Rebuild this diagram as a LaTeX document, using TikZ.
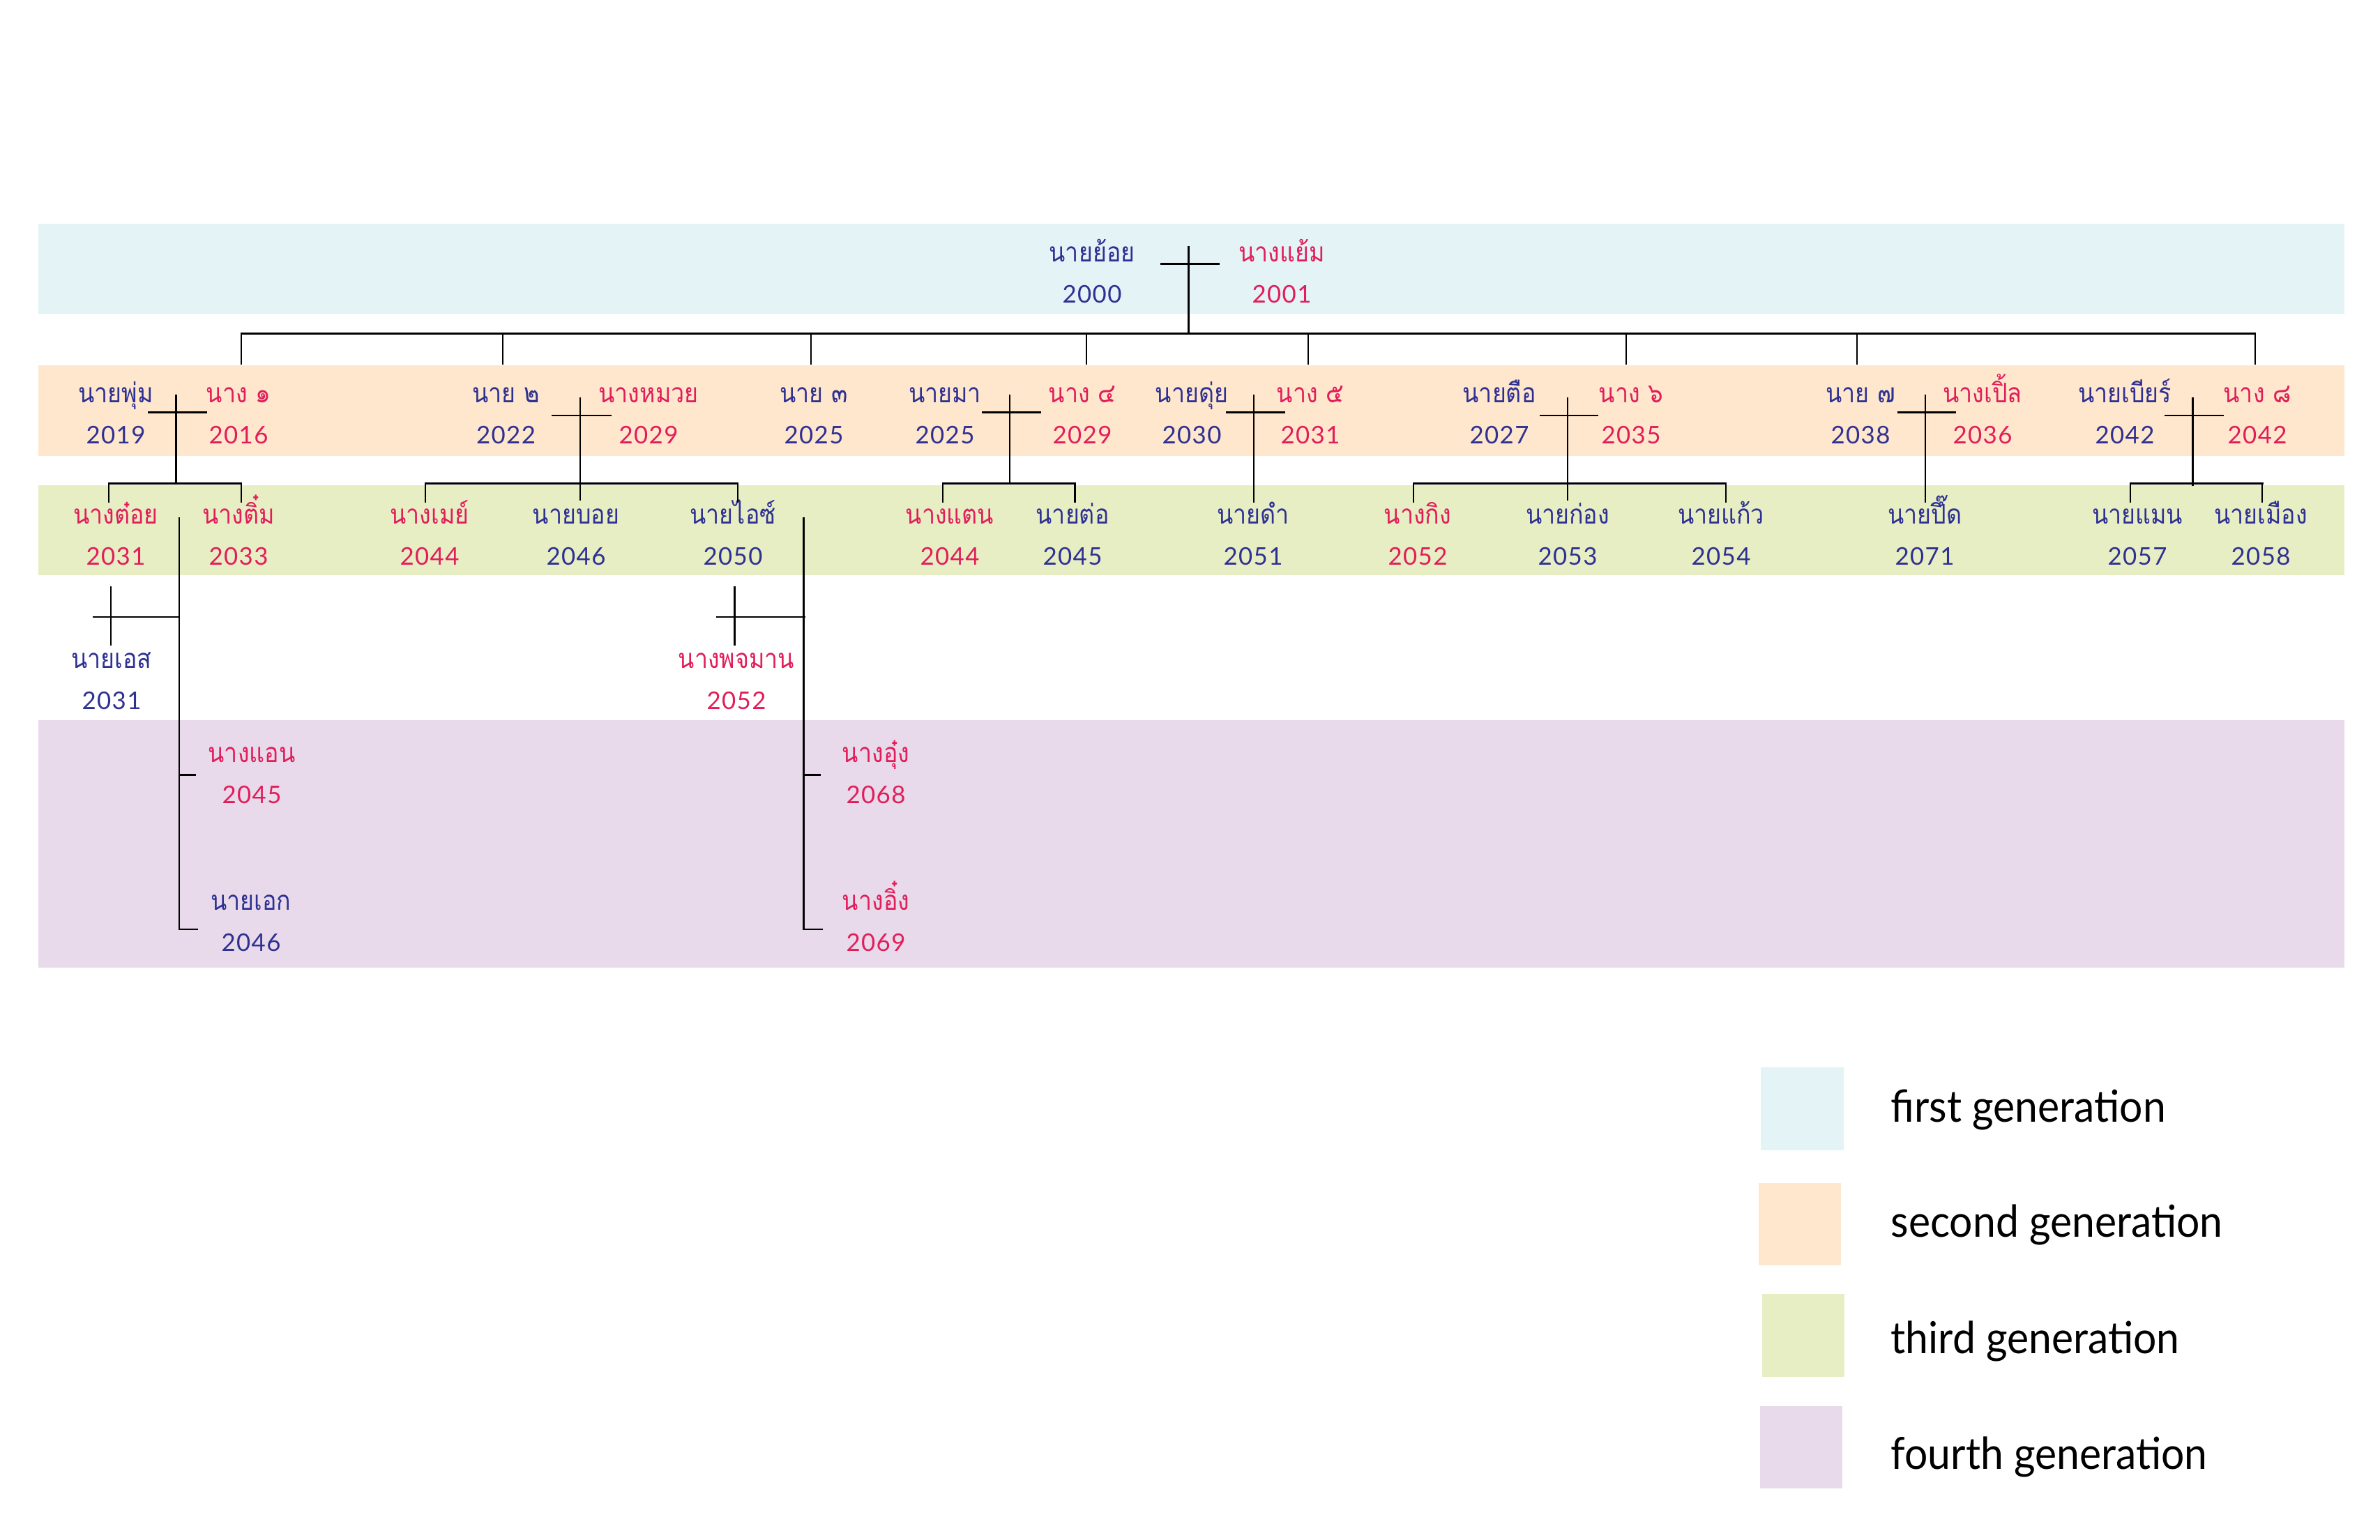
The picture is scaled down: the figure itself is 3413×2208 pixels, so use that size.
\documentclass[tikz,border=0pt]{standalone}
\usepackage{fontspec}
\newfontfamily\thaifont[Script=Thai,FakeStretch=0.88]{Loma}
\newfontfamily\numfont[LetterSpace=4]{Lato}
\newfontfamily\legfont[FakeStretch=0.93]{Lato}
\definecolor{bandA}{RGB}{227,243,246}
\definecolor{bandB}{RGB}{254,231,204}
\definecolor{bandC}{RGB}{232,238,196}
\definecolor{bandD}{RGB}{232,218,234}
\definecolor{nblue}{RGB}{46,49,146}
\definecolor{npink}{RGB}{225,30,90}
\tikzset{
  nm/.style={font=\thaifont\fontsize{11}{13}\selectfont, anchor=base, inner sep=0pt},
  yr/.style={font=\numfont\fontsize{9.9}{12}\selectfont, anchor=base, inner sep=0pt},
  him/.style={text=nblue},
  her/.style={text=npink},
  ln/.style={line width=0.65pt, line cap=rect},
  barln/.style={line width=0.8pt, line cap=rect},
  legtext/.style={font=\legfont\fontsize{18}{20}\selectfont, anchor=base west, inner sep=0pt}
}
% id, x, name baseline, name, year, style
\newcommand{\fmperson}[6]{%
  \node[nm,#6] (#1) at (#2,#3) {#4};
  \node[yr,#6] (#1y) at (#2,#3+59) {#5};}
% couple cross: id, x, ytop, ybottom, yh, xl, xr
\newcommand{\fmcross}[7]{%
  \coordinate (#1t) at (#2,#3);
  \coordinate (#1b) at (#2,#4);
  \coordinate (#1l) at (#6,#5);
  \coordinate (#1r) at (#7,#5);
  \draw[ln] (#1t) -- (#1b);
  \draw[ln] (#1l) -- (#1r);}
\begin{document}
\begin{tikzpicture}[x=0.01cm,y=-0.01cm]
\useasboundingbox (0,0) rectangle (3413,2208);
% bands
\fill[bandA] (55,320.7) rectangle (3362,450.4);
\fill[bandB] (55,524.3) rectangle (3362,654);
\fill[bandC] (55,695.7) rectangle (3362,825);
\fill[bandD] (55,1033) rectangle (3362,1387.5);

% first generation
\fmperson{ya}{1566}{375}{นายย้อย}{2000}{him}
\fmperson{yb}{1838}{375}{นางแย้ม}{2001}{her}

% second generation
\fmperson{pa}{166}{577}{นายพุ่ม}{2019}{him}
\fmperson{pb}{342}{577}{นาง ๑}{2016}{her}
\fmperson{qa}{725.5}{577}{นาย ๒}{2022}{him}
\fmperson{qb}{930}{577}{นางหมวย}{2029}{her}
\fmperson{ra}{1167}{577}{นาย ๓}{2025}{him}
\fmperson{sa}{1355}{577}{นายมา}{2025}{him}
\fmperson{sb}{1552}{577}{นาง ๔}{2029}{her}
\fmperson{ta}{1709}{577}{นายดุ่ย}{2030}{him}
\fmperson{tb}{1879}{577}{นาง ๕}{2031}{her}
\fmperson{ua}{2150}{577}{นายตือ}{2027}{him}
\fmperson{ub}{2339}{577}{นาง ๖}{2035}{her}
\fmperson{va}{2668}{577}{นาย ๗}{2038}{him}
\fmperson{vb}{2843}{577}{นางเปิ้ล}{2036}{her}
\fmperson{wa}{3047}{577}{นายเบียร์}{2042}{him}
\fmperson{wb}{3237}{577}{นาง ๘}{2042}{her}

% third generation
\fmperson{c1}{166}{751}{นางต๋อย}{2031}{her}
\fmperson{c2}{342}{751}{นางติ๋ม}{2033}{her}
\fmperson{c3}{616}{751}{นางเมย์}{2044}{her}
\fmperson{c4}{826}{751}{นายบอย}{2046}{him}
\fmperson{c5}{1051}{751}{นายไอซ์}{2050}{him}
\fmperson{c6}{1362}{751}{นางแตน}{2044}{her}
\fmperson{c7}{1538}{751}{นายต่อ}{2045}{him}
\fmperson{c8}{1797}{751}{นายดำ}{2051}{him}
\fmperson{c9}{2033}{751}{นางกิง}{2052}{her}
\fmperson{c10}{2248}{751}{นายก่อง}{2053}{him}
\fmperson{c11}{2468}{751}{นายแก้ว}{2054}{him}
\fmperson{c12}{2760}{751}{นายปึ๊ด}{2071}{him}
\fmperson{c13}{3065}{751}{นายแมน}{2057}{him}
\fmperson{c14}{3242}{751}{นายเมือง}{2058}{him}

% spouses of third generation
\fmperson{e1}{160}{958.5}{นายเอส}{2031}{him}
\fmperson{e2}{1056}{958.5}{นางพจมาน}{2052}{her}

% fourth generation
\fmperson{f1}{361}{1093.6}{นางแอน}{2045}{her}
\fmperson{f2}{360}{1305}{นายเอก}{2046}{him}
\fmperson{f3}{1256}{1093.6}{นางอุ๋ง}{2068}{her}
\fmperson{f4}{1256}{1305}{นางอิ๋ง}{2069}{her}

% ---- connectors ----
% first couple
\fmcross{x0}{1704.6}{354}{478.6}{378.6}{1665}{1748}
\coordinate (s0l) at (346,478.6);
\coordinate (s0r) at (3234,478.6);
\draw[barln] (s0l) -- (s0r);
\foreach \i/\x in {1/346,2/721,3/1163,4/1558,5/1876,6/2332,7/2663,8/3234}{
  \coordinate (k\i) at (\x,522);
  \draw[ln] (k\i |- s0l) -- (k\i);
}

% second generation couples
\fmcross{x1}{252.5}{567}{693.6}{591.4}{212.8}{296.2}
\fmcross{x2}{832}{571}{717}{595.7}{792}{876}
\fmcross{x3}{1448}{567}{693.6}{591.4}{1409}{1492}
\fmcross{x4}{1798}{567}{720}{591.4}{1759}{1841.5}
\fmcross{x5}{2248}{571}{717}{595.7}{2209}{2291}
\fmcross{x6}{2761}{567}{720}{591.4}{2722}{2804}
\fmcross{x7}{3144.5}{571}{696}{595.7}{3105}{3188}

% children bars (third generation)
\foreach \n/\a/\b in {1/156/346, 2/610/1058, 3/1352/1541.6, 5/2027/2474.6, 7/3055/3244.3}{
  \coordinate (b\n l) at (\a,693.6);
  \coordinate (b\n r) at (\b,693.6);
  \coordinate (b\n ld) at (\a,719.6);
  \coordinate (b\n rd) at (\b,719.6);
  \draw[barln] (b\n l) -- (b\n r);
  \draw[ln] (b\n l) -- (b\n ld);
  \draw[ln] (b\n r) -- (b\n rd);
}

% third generation marriages and fourth generation
\fmcross{m1}{159}{842}{925}{885}{134}{257}
\fmcross{m2}{1053.6}{842}{925}{885}{1028.6}{1153.6}
\coordinate (l1t) at (257,743);
\coordinate (l1b) at (257,1333);
\coordinate (l1a) at (280,1111.6);
\coordinate (l1c) at (283,1333);
\draw[ln] (l1t) -- (l1b) -- (l1c);
\draw[ln] (l1a -| l1t) -- (l1a);
\coordinate (l2t) at (1152.5,743);
\coordinate (l2b) at (1152.5,1333);
\coordinate (l2a) at (1176,1111.6);
\coordinate (l2c) at (1178.6,1333);
\draw[ln] (l2t) -- (l2b) -- (l2c);
\draw[ln] (l2a -| l2t) -- (l2a);

% legend
\fill[bandA] (2525,1531) rectangle (2643.5,1649.6);
\fill[bandB] (2522,1697) rectangle (2640,1815);
\fill[bandC] (2527,1856) rectangle (2645,1975);
\fill[bandD] (2524,2016.6) rectangle (2642,2135);
\node[legtext] (lg1) at (2711,1609.5) {first generation};
\node[legtext] (lg2) at (2711,1774.6) {second generation};
\node[legtext] (lg3) at (2711,1941) {third generation};
\node[legtext] (lg4) at (2711,2107) {fourth generation};
\end{tikzpicture}
\end{document}
